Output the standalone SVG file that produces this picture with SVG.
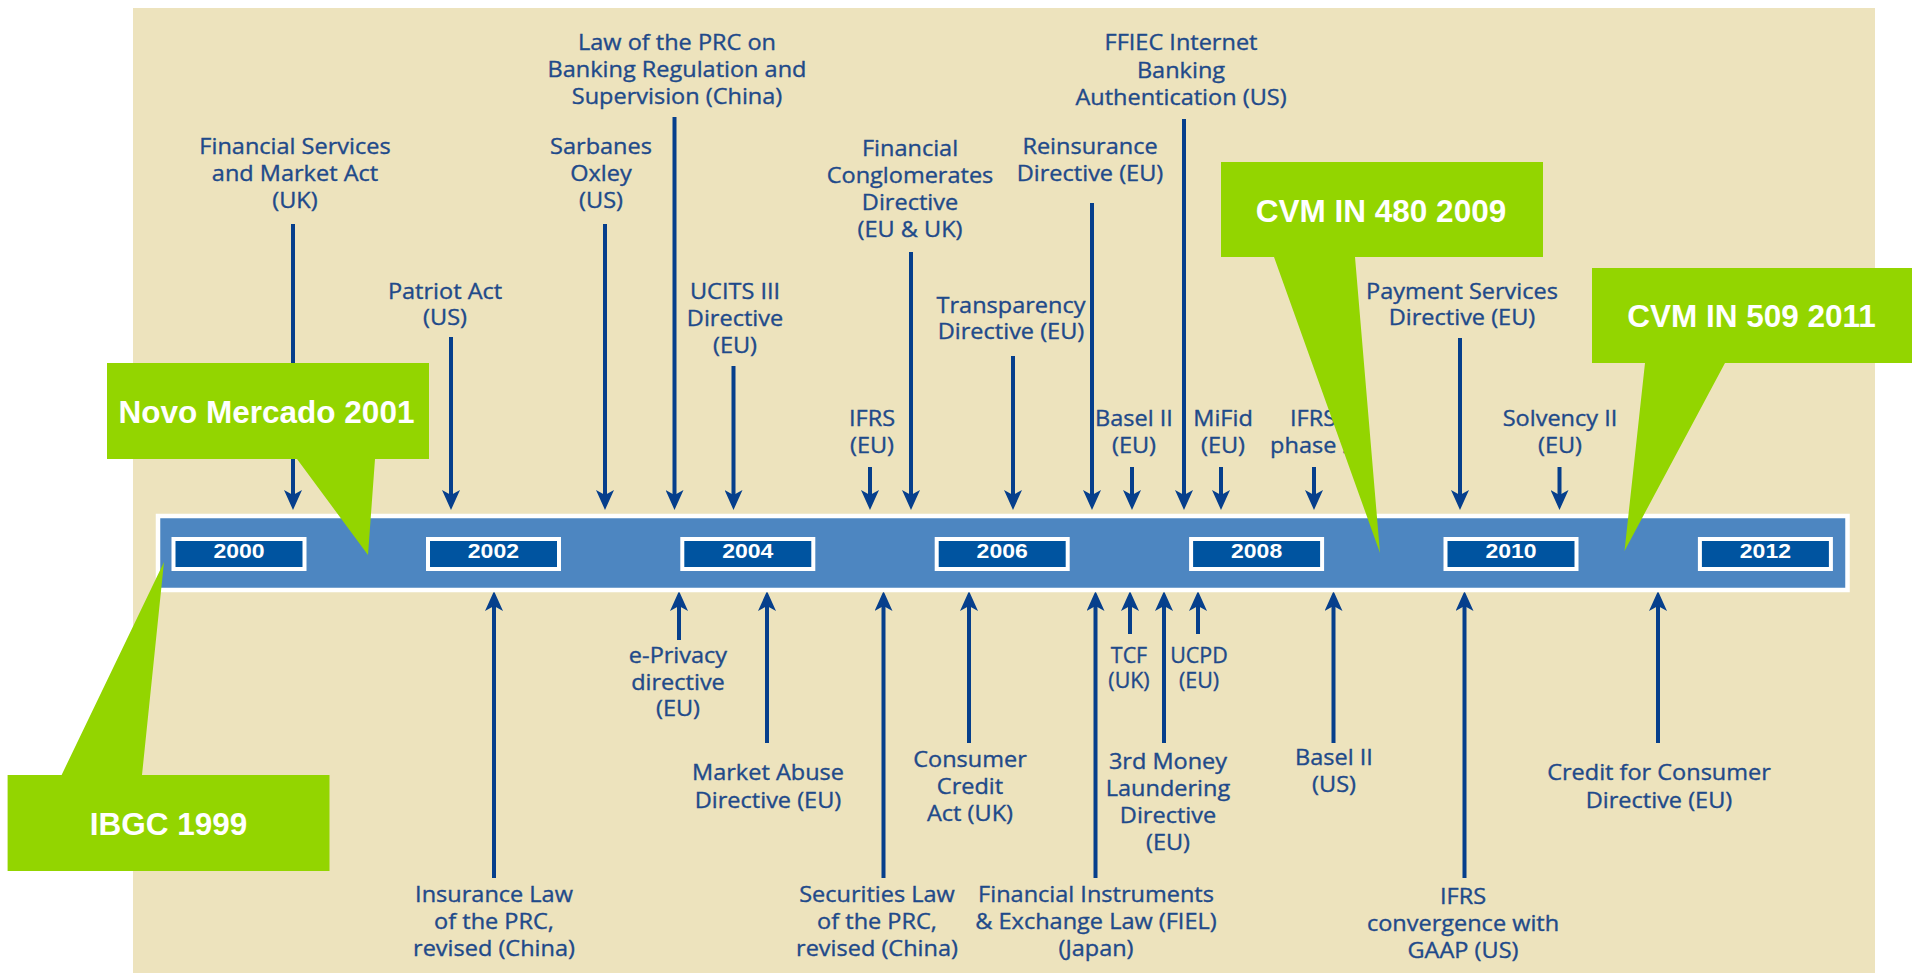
<svg xmlns="http://www.w3.org/2000/svg" width="1912" height="973" viewBox="0 0 1912 973">
<defs>
<style>
.t{font-family:"Open Sans","Liberation Sans",sans-serif;font-size:21px;fill:#1f4a8a;text-anchor:middle;stroke:#1f4a8a;stroke-width:0.35}
.yr{font-family:"Liberation Sans",Arial,sans-serif;font-size:20px;font-weight:bold;fill:#fff;text-anchor:middle}
.ybox{fill:#0054a0;stroke:#fff;stroke-width:4}
.co{fill:#93d500}
.ct{font-family:"Liberation Sans",Arial,sans-serif;font-size:31.5px;font-weight:bold;fill:#fff;text-anchor:middle}
.ar{stroke:#063f8c;stroke-width:4;fill:none}
</style>
<marker id="ah" viewBox="0 0 20 18" refX="6" refY="9" markerWidth="20" markerHeight="18" orient="auto" markerUnits="userSpaceOnUse"><path d="M0,0 L20,9 L0,18 L5,9 Z" fill="#063f8c"/></marker>
</defs>
<rect x="0" y="0" width="1912" height="973" fill="#ffffff"/>
<rect x="133" y="8" width="1742" height="965" fill="#ede3bd"/>

<g id="connectors">
<line class="ar" x1="293" y1="224" x2="293" y2="496" marker-end="url(#ah)"/>
<line class="ar" x1="451" y1="337" x2="451" y2="496" marker-end="url(#ah)"/>
<line class="ar" x1="605" y1="224" x2="605" y2="496" marker-end="url(#ah)"/>
<line class="ar" x1="674.5" y1="117" x2="674.5" y2="496" marker-end="url(#ah)"/>
<line class="ar" x1="733.5" y1="366" x2="733.5" y2="496" marker-end="url(#ah)"/>
<line class="ar" x1="870" y1="467" x2="870" y2="496" marker-end="url(#ah)"/>
<line class="ar" x1="911" y1="252" x2="911" y2="496" marker-end="url(#ah)"/>
<line class="ar" x1="1013" y1="356" x2="1013" y2="496" marker-end="url(#ah)"/>
<line class="ar" x1="1092" y1="203" x2="1092" y2="496" marker-end="url(#ah)"/>
<line class="ar" x1="1132" y1="467" x2="1132" y2="496" marker-end="url(#ah)"/>
<line class="ar" x1="1184" y1="119" x2="1184" y2="496" marker-end="url(#ah)"/>
<line class="ar" x1="1221" y1="467" x2="1221" y2="496" marker-end="url(#ah)"/>
<line class="ar" x1="1314" y1="467" x2="1314" y2="496" marker-end="url(#ah)"/>
<line class="ar" x1="1460" y1="338" x2="1460" y2="496" marker-end="url(#ah)"/>
<line class="ar" x1="1559.5" y1="467" x2="1559.5" y2="496" marker-end="url(#ah)"/>

<line class="ar" x1="494" y1="878" x2="494" y2="605" marker-end="url(#ah)"/>
<line class="ar" x1="679" y1="640" x2="679" y2="605" marker-end="url(#ah)"/>
<line class="ar" x1="767" y1="743" x2="767" y2="605" marker-end="url(#ah)"/>
<line class="ar" x1="883.5" y1="878" x2="883.5" y2="605" marker-end="url(#ah)"/>
<line class="ar" x1="969" y1="743" x2="969" y2="605" marker-end="url(#ah)"/>
<line class="ar" x1="1095.5" y1="878" x2="1095.5" y2="605" marker-end="url(#ah)"/>
<line class="ar" x1="1130" y1="634" x2="1130" y2="605" marker-end="url(#ah)"/>
<line class="ar" x1="1164" y1="743" x2="1164" y2="605" marker-end="url(#ah)"/>
<line class="ar" x1="1198" y1="634" x2="1198" y2="605" marker-end="url(#ah)"/>
<line class="ar" x1="1333.5" y1="743" x2="1333.5" y2="605" marker-end="url(#ah)"/>
<line class="ar" x1="1464.5" y1="878" x2="1464.5" y2="605" marker-end="url(#ah)"/>
<line class="ar" x1="1658" y1="743" x2="1658" y2="605" marker-end="url(#ah)"/>
</g>

<g id="n-fsma" transform="translate(295 0) scale(1.12 1)"><text class="t"><tspan x="0" y="154">Financial Services</tspan><tspan x="0" y="181">and Market Act</tspan><tspan x="0" y="208">(UK)</tspan></text></g>
<g id="n-patriot" transform="translate(445 0) scale(1.12 1)"><text class="t"><tspan x="0" y="299">Patriot Act</tspan><tspan x="0" y="325">(US)</tspan></text></g>
<g id="n-sox" transform="translate(601 0) scale(1.12 1)"><text class="t"><tspan x="0" y="154">Sarbanes</tspan><tspan x="0" y="181">Oxley</tspan><tspan x="0" y="208">(US)</tspan></text></g>
<g id="n-prc-bank" transform="translate(677 0) scale(1.12 1)"><text class="t"><tspan x="0" y="50">Law of the PRC on</tspan><tspan x="0" y="77">Banking Regulation and</tspan><tspan x="0" y="104">Supervision (China)</tspan></text></g>
<g id="n-ucits" transform="translate(735 0) scale(1.12 1)"><text class="t"><tspan x="0" y="299">UCITS III</tspan><tspan x="0" y="326">Directive</tspan><tspan x="0" y="353">(EU)</tspan></text></g>
<g id="n-ifrs-eu" transform="translate(872 0) scale(1.12 1)"><text class="t"><tspan x="0" y="426">IFRS</tspan><tspan x="0" y="453">(EU)</tspan></text></g>
<g id="n-fincong" transform="translate(910 0) scale(1.12 1)"><text class="t"><tspan x="0" y="156">Financial</tspan><tspan x="0" y="183">Conglomerates</tspan><tspan x="0" y="210">Directive</tspan><tspan x="0" y="237">(EU &amp; UK)</tspan></text></g>
<g id="n-transp" transform="translate(1011 0) scale(1.12 1)"><text class="t"><tspan x="0" y="313">Transparency</tspan><tspan x="0" y="339">Directive (EU)</tspan></text></g>
<g id="n-reins" transform="translate(1090 0) scale(1.12 1)"><text class="t"><tspan x="0" y="154">Reinsurance</tspan><tspan x="0" y="181">Directive (EU)</tspan></text></g>
<g id="n-basel-eu" transform="translate(1134 0) scale(1.12 1)"><text class="t"><tspan x="0" y="426">Basel II</tspan><tspan x="0" y="453">(EU)</tspan></text></g>
<g id="n-ffiec" transform="translate(1181 0) scale(1.12 1)"><text class="t"><tspan x="0" y="50">FFIEC Internet</tspan><tspan x="0" y="78">Banking</tspan><tspan x="0" y="105">Authentication (US)</tspan></text></g>
<g id="n-mifid" transform="translate(1223 0) scale(1.12 1)"><text class="t"><tspan x="0" y="426">MiFid</tspan><tspan x="0" y="453">(EU)</tspan></text></g>
<g id="n-ifrs-phase" transform="translate(1313 0) scale(1.12 1)"><text class="t"><tspan x="0" y="426">IFRS</tspan><tspan x="0" y="453">phase 2</tspan></text></g>
<g id="n-psd" transform="translate(1462 0) scale(1.12 1)"><text class="t"><tspan x="0" y="299">Payment Services</tspan><tspan x="0" y="325">Directive (EU)</tspan></text></g>
<g id="n-solv" transform="translate(1560 0) scale(1.12 1)"><text class="t"><tspan x="0" y="426">Solvency II</tspan><tspan x="0" y="453">(EU)</tspan></text></g>

<g id="n-ins-law" transform="translate(494 0) scale(1.12 1)"><text class="t"><tspan x="0" y="902">Insurance Law</tspan><tspan x="0" y="929">of the PRC,</tspan><tspan x="0" y="956">revised (China)</tspan></text></g>
<g id="n-eprivacy" transform="translate(678 0) scale(1.12 1)"><text class="t"><tspan x="0" y="663">e-Privacy</tspan><tspan x="0" y="690">directive</tspan><tspan x="0" y="716">(EU)</tspan></text></g>
<g id="n-mad" transform="translate(768 0) scale(1.12 1)"><text class="t"><tspan x="0" y="780">Market Abuse</tspan><tspan x="0" y="808">Directive (EU)</tspan></text></g>
<g id="n-sec-law" transform="translate(877 0) scale(1.12 1)"><text class="t"><tspan x="0" y="902">Securities Law</tspan><tspan x="0" y="929">of the PRC,</tspan><tspan x="0" y="956">revised (China)</tspan></text></g>
<g id="n-cca" transform="translate(970 0) scale(1.12 1)"><text class="t"><tspan x="0" y="767">Consumer</tspan><tspan x="0" y="794">Credit</tspan><tspan x="0" y="821">Act (UK)</tspan></text></g>
<g id="n-fiel" transform="translate(1096 0) scale(1.12 1)"><text class="t"><tspan x="0" y="902">Financial Instruments</tspan><tspan x="0" y="929">&amp; Exchange Law (FIEL)</tspan><tspan x="0" y="956">(Japan)</tspan></text></g>
<g id="n-tcf" transform="translate(1129 0) scale(1.02 1)"><text class="t"><tspan x="0" y="663">TCF</tspan><tspan x="0" y="688">(UK)</tspan></text></g>
<g id="n-3mld" transform="translate(1168 0) scale(1.12 1)"><text class="t"><tspan x="0" y="769">3rd Money</tspan><tspan x="0" y="796">Laundering</tspan><tspan x="0" y="823">Directive</tspan><tspan x="0" y="850">(EU)</tspan></text></g>
<g id="n-ucpd" transform="translate(1199 0) scale(1.02 1)"><text class="t"><tspan x="0" y="663">UCPD</tspan><tspan x="0" y="688">(EU)</tspan></text></g>
<g id="n-basel-us" transform="translate(1334 0) scale(1.12 1)"><text class="t"><tspan x="0" y="765">Basel II</tspan><tspan x="0" y="792">(US)</tspan></text></g>
<g id="n-ifrs-gaap" transform="translate(1463 0) scale(1.12 1)"><text class="t"><tspan x="0" y="904">IFRS</tspan><tspan x="0" y="931">convergence with</tspan><tspan x="0" y="958">GAAP (US)</tspan></text></g>
<g id="n-ccd" transform="translate(1659 0) scale(1.12 1)"><text class="t"><tspan x="0" y="780">Credit for Consumer</tspan><tspan x="0" y="808">Directive (EU)</tspan></text></g>

<g id="timeline">
<rect x="158" y="516" width="1689.5" height="74" fill="#4d86c1" stroke="#ffffff" stroke-width="4.5"/>
<g id="y2000"><rect class="ybox" x="173.5" y="539" width="131" height="30"/><text class="yr" transform="translate(239 0) scale(1.15 1)" x="0" y="558">2000</text></g>
<g id="y2002"><rect class="ybox" x="428" y="539" width="131" height="30"/><text class="yr" transform="translate(493.4 0) scale(1.15 1)" x="0" y="558">2002</text></g>
<g id="y2004"><rect class="ybox" x="682.3" y="539" width="131" height="30"/><text class="yr" transform="translate(747.8 0) scale(1.15 1)" x="0" y="558">2004</text></g>
<g id="y2006"><rect class="ybox" x="936.7" y="539" width="131" height="30"/><text class="yr" transform="translate(1002.2 0) scale(1.15 1)" x="0" y="558">2006</text></g>
<g id="y2008"><rect class="ybox" x="1191.1" y="539" width="131" height="30"/><text class="yr" transform="translate(1256.6 0) scale(1.15 1)" x="0" y="558">2008</text></g>
<g id="y2010"><rect class="ybox" x="1445.5" y="539" width="131" height="30"/><text class="yr" transform="translate(1511 0) scale(1.15 1)" x="0" y="558">2010</text></g>
<g id="y2012"><rect class="ybox" x="1699.9" y="539" width="131" height="30"/><text class="yr" transform="translate(1765.4 0) scale(1.15 1)" x="0" y="558">2012</text></g>
</g>

<g id="c-novo"><path class="co" d="M107,363 H429 V459 H375 L368,555 L297,459 H107 Z"/><text class="ct" x="266.5" y="423">Novo Mercado 2001</text></g>
<g id="c-ibgc"><path class="co" d="M7.6,775 H61.6 L164,562 L142,775 H329.5 V871 H7.6 Z"/><text class="ct" x="168.5" y="835">IBGC 1999</text></g>
<g id="c-cvm480"><path class="co" d="M1221,162 H1543 V257 H1355 L1380,553 L1274,257 H1221 Z"/><text class="ct" x="1381" y="222">CVM IN 480 2009</text></g>
<g id="c-cvm509"><path class="co" d="M1592,268 H1912 V363 H1725 L1624.5,551 L1645,363 H1592 Z"/><text class="ct" x="1751.5" y="327">CVM IN 509 2011</text></g>
</svg>
